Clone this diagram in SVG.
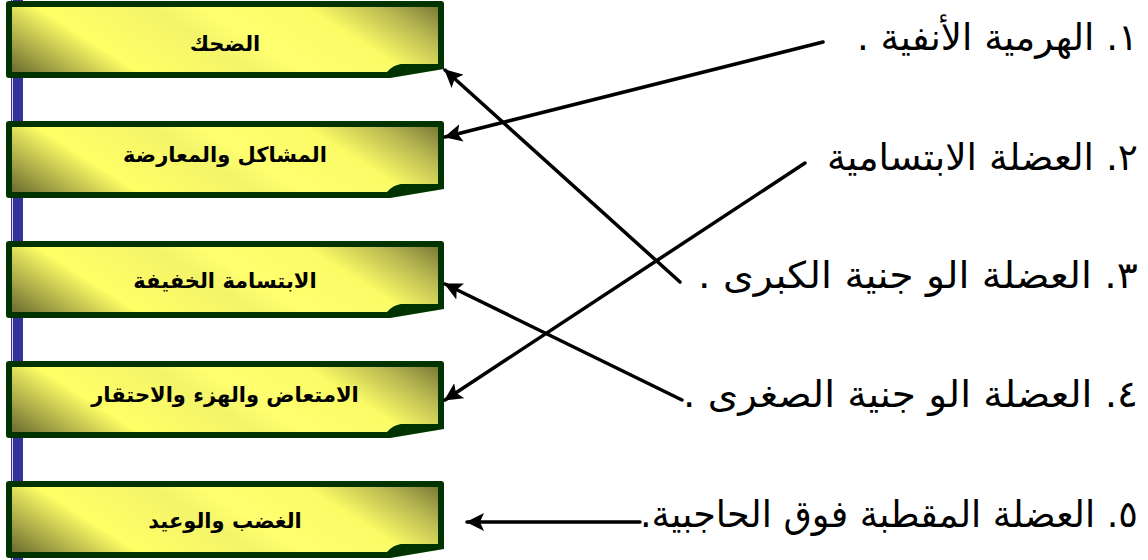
<svg xmlns="http://www.w3.org/2000/svg" width="1148" height="560" viewBox="0 0 1148 560">
<style>
.outer{fill:#003300}
.inner{fill:url(#g)}
.lbl{font-family:"DejaVu Sans","Noto Sans",sans-serif;font-weight:bold;font-size:21px;fill:#000;text-anchor:middle}
.item{font-family:"DejaVu Sans","Noto Sans",sans-serif;font-size:37px;fill:#000}
.c{stroke:#000;stroke-width:3.5;fill:none;stroke-linecap:round}
</style>
<defs>
<linearGradient id="g" gradientUnits="userSpaceOnUse" x1="12" y1="72" x2="169" y2="-172">
<stop offset="0" stop-color="#6a6a2e"/>
<stop offset="0.1" stop-color="#a8a848"/>
<stop offset="0.24" stop-color="#ffff66"/>
<stop offset="0.45" stop-color="#f4f46a"/>
<stop offset="0.55" stop-color="#ffff70"/>
<stop offset="0.74" stop-color="#fbfb66"/>
<stop offset="0.88" stop-color="#b8b852"/>
<stop offset="1" stop-color="#727232"/>
</linearGradient>
<marker id="ah" markerUnits="userSpaceOnUse" markerWidth="20" markerHeight="18" refX="17" refY="9" orient="auto">
<path d="M0,0 L18,9 L0,18 L4,9 Z" fill="#000"/>
</marker>
<symbol id="box" overflow="visible">
<path class="outer" d="M9,0 H441 Q444,0 444,3 V68 L390,77 H9 Q6,77 6,74 V3 Q6,0 9,0 Z"/>
<path class="inner" d="M12,6 H438 V63 H401 Q393,64 387,71 H12 Z"/>
</symbol>
</defs>
<rect width="1148" height="560" fill="#fff"/>
<g id="bar">
<rect x="11" y="0" width="1.2" height="560" fill="#333399"/>
<rect x="13" y="0" width="10" height="560" fill="#333399"/>
</g>
<g id="n1" transform="translate(0,1)"><use href="#box"/><text class="lbl" x="225" y="50">الضحك</text></g>
<g id="n2" transform="translate(0,121)"><use href="#box"/><text class="lbl" x="225" y="41">المشاكل والمعارضة</text></g>
<g id="n3" transform="translate(0,241)"><use href="#box"/><text class="lbl" x="225" y="47">الابتسامة الخفيفة</text></g>
<g id="n4" transform="translate(0,361)"><use href="#box"/><text class="lbl" x="225" y="41">الامتعاض والهزء والاحتقار</text></g>
<g id="n5" transform="translate(0,481)"><use href="#box"/><text class="lbl" x="225" y="47">الغضب والوعيد</text></g>
<g id="items">
<text id="t1" class="item" x="1138" y="50" direction="rtl" text-anchor="start" textLength="281" lengthAdjust="spacingAndGlyphs">١. الهرمية الأنفية .</text>
<text id="t2" class="item" x="1138" y="170" direction="rtl" text-anchor="start" textLength="311" lengthAdjust="spacingAndGlyphs">٢. العضلة الابتسامية</text>
<text id="t3" class="item" x="1138" y="288" direction="rtl" text-anchor="start" textLength="440" lengthAdjust="spacingAndGlyphs">٣. العضلة الو جنية الكبرى  .</text>
<text id="t4" class="item" x="1138" y="407" direction="rtl" text-anchor="start" textLength="455" lengthAdjust="spacingAndGlyphs">٤. العضلة الو جنية الصغرى .</text>
<text id="t5" class="item" x="1138" y="527" direction="rtl" text-anchor="start" textLength="498" lengthAdjust="spacingAndGlyphs">٥. العضلة المقطبة فوق الحاجبية.</text>
</g>
<g id="connectors">
<line class="c" x1="823" y1="42" x2="445" y2="137" marker-end="url(#ah)"/>
<line class="c" x1="805" y1="163" x2="445" y2="400" marker-end="url(#ah)"/>
<line class="c" x1="680" y1="282" x2="445" y2="70" marker-end="url(#ah)"/>
<line class="c" x1="682" y1="400" x2="445" y2="284" marker-end="url(#ah)"/>
<line class="c" x1="640" y1="522" x2="467" y2="522" stroke-width="4" marker-end="url(#ah)"/>
</g>
</svg>
